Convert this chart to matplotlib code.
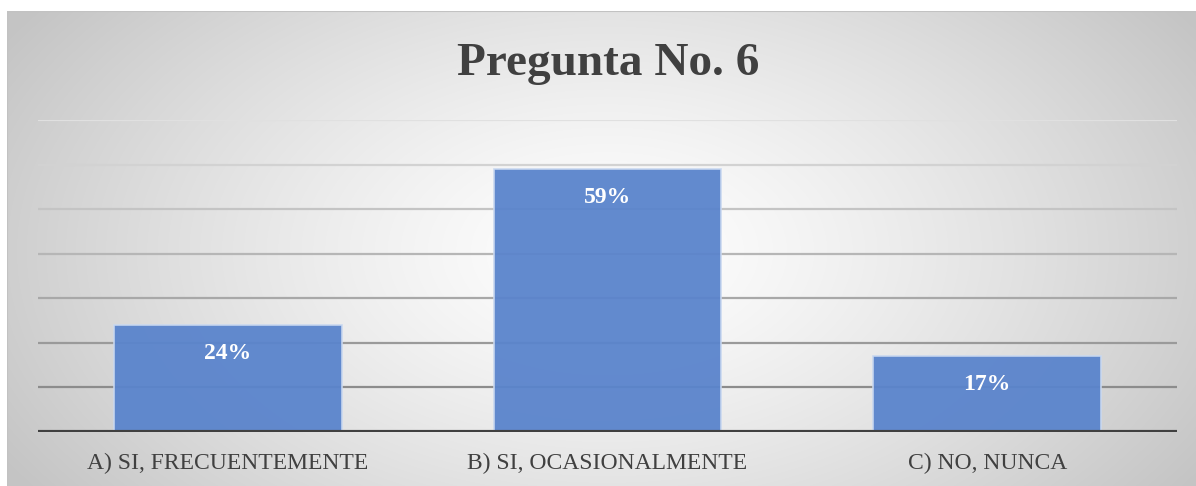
import numpy as np
import matplotlib
matplotlib.use("Agg")
import matplotlib.pyplot as plt

categorias = ["A) SI, FRECUENTEMENTE", "B) SI, OCASIONALMENTE", "C) NO, NUNCA"]
valores = [0.24, 0.59, 0.17]
etiquetas = ["24%", "59%", "17%"]
titulo = "Pregunta No. 6"

plt.rcParams['font.family'] = ['Liberation Serif', 'DejaVu Serif']

fig = plt.figure(figsize=(11.96, 4.86), dpi=100)

# radial gradient background of the chart area
bg = fig.add_axes([7/1196, 0, 1 - 7/1196, 475/486])
bg.set_axis_off()
h, w = 475, 1189
yy, xx = np.mgrid[0:h, 0:w]
r = np.sqrt(((xx - 600) / 700.0) ** 2 + ((yy - 240) / 420.0) ** 2)
r = np.clip(r, 0, 1)
g = 1.0 - 0.23 * r ** 1.3
bg.imshow(np.dstack([g, g, g]), extent=[0, w, h, 0], aspect='auto')
bg.plot([0, w], [0.5, 0.5], color='#c2c2c2', lw=1.5)
bg.plot([0.5, 0.5], [0, h], color='#c2c2c2', lw=1.5)
bg.set_xlim(0, w)
bg.set_ylim(h, 0)

ax = fig.add_axes([38/1196, 54/486, 1139/1196, 312/486])
ax.patch.set_alpha(0)
x = np.arange(len(categorias))

# gridlines, lighter towards the top
for i, yv in enumerate(np.arange(0.1, 0.71, 0.1)):
    c = 0.55 + 0.33 * i / 6
    ax.axhline(yv, color=(c, c, c), lw=1.6, zorder=1)

bars = ax.bar(x, valores, width=0.6, color='#5a84cc', edgecolor='#c9d8f0',
              linewidth=1.2, alpha=0.95, zorder=2)
for b, lab in zip(bars, etiquetas):
    ax.text(b.get_x() + b.get_width() / 2, b.get_height() - 0.063, lab,
            ha='center', va='center', color='white', fontsize=17,
            fontweight='bold', zorder=3)

ax.axhline(0, color='#404040', lw=3, zorder=3)
ax.set_xlim(-0.5, 2.5)
ax.set_ylim(0, 0.7)
ax.set_xticks(x)
ax.set_xticklabels(categorias, fontsize=17, color='#404040')
ax.tick_params(axis='x', length=0, pad=15)
ax.set_yticks([])
for s in ax.spines.values():
    s.set_visible(False)

fig.text(608/1196, 1 - 64/486, titulo, ha='center', va='center',
         fontsize=34, fontweight='bold', color='#404040')

fig.savefig("out.png", dpi=100)
